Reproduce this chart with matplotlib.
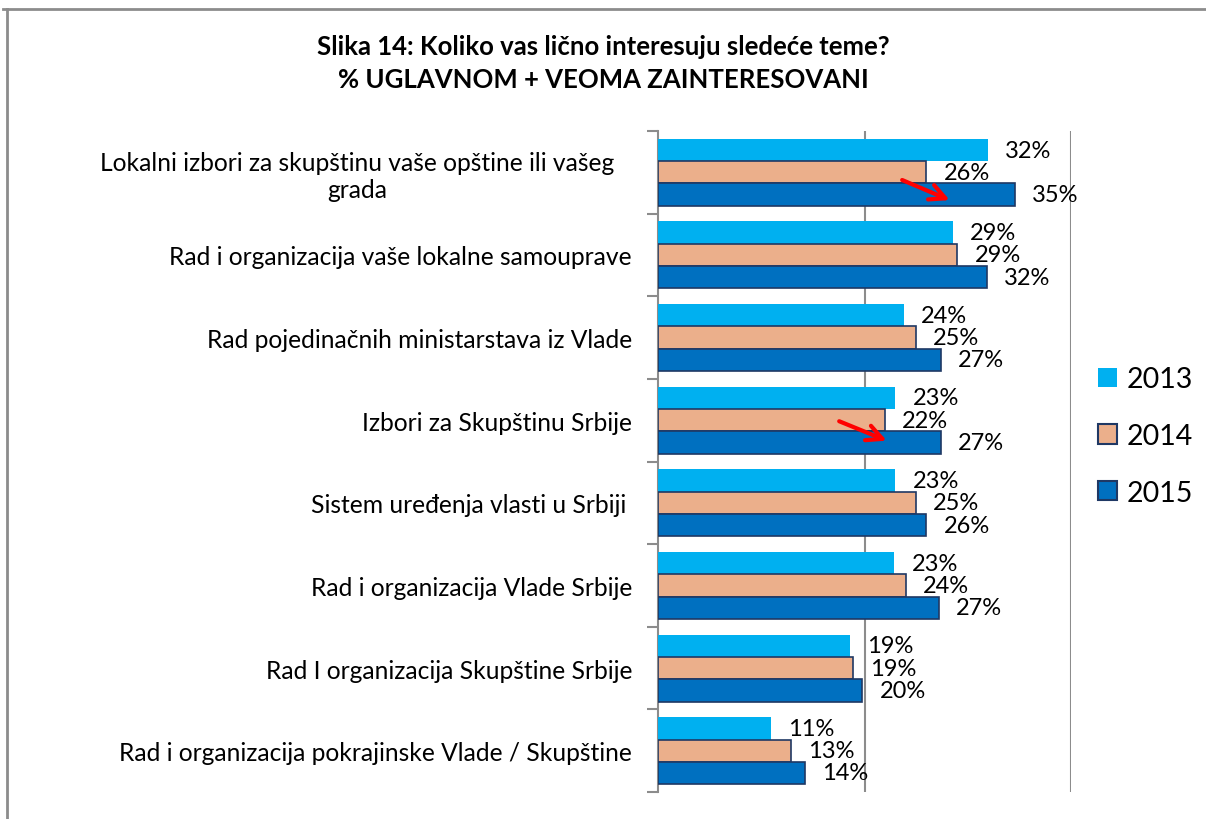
import numpy as np
import matplotlib
matplotlib.use('Agg')
import matplotlib.pyplot as plt
from matplotlib.lines import Line2D
from matplotlib.patches import Rectangle

plt.rcParams['font.family'] = ['Lato', 'DejaVu Sans']

# ---- Data ---- #
categories = [
    'Lokalni izbori za skupštinu vaše opštine ili vašeg\ngrada',
    'Rad i organizacija vaše lokalne samouprave',
    'Rad pojedinačnih ministarstava iz Vlade',
    'Izbori za Skupštinu Srbije',
    'Sistem uređenja vlasti u Srbiji ',
    'Rad i organizacija Vlade Srbije',
    'Rad I organizacija Skupštine Srbije',
    'Rad i organizacija pokrajinske Vlade / Skupštine',
]
years = ['2013', '2014', '2015']
v2013 = [32.0, 28.6, 23.8, 23.0, 23.0, 22.9, 18.6, 10.9]
v2014 = [26.0, 29.0, 25.0, 22.0, 25.0, 24.0, 18.9, 12.9]
v2015 = [34.6, 31.9, 27.4, 27.4, 26.0, 27.2, 19.8, 14.2]

colors = ['#00B0F0', '#EBAF8B', '#0070C0']
edges = ['none', '#1F3864', '#1F3864']

fig = plt.figure(figsize=(12.06, 8.2), dpi=100)
ax = fig.add_axes([658/1206, 1-793/820, (1071-658)/1206, (793-132)/820])

n = len(categories)
y = np.arange(n)
h = 0.27
for k, (vals, col, ec) in enumerate(zip([v2013, v2014, v2015], colors, edges)):
    pos = y + (k - 1) * h
    ax.barh(pos, vals, height=h, color=col, edgecolor=ec,
            linewidth=1.2 if ec != 'none' else 0, label=years[k], zorder=3)
    for p, v in zip(pos, vals):
        ax.annotate(f'{round(v):d}%', (v, p), xytext=(17, 0),
                    textcoords='offset pixels',
                    va='center', ha='left', fontsize=17, zorder=4)

ax.set_xlim(0, 40)
ax.set_ylim(n - 0.5, -0.5)
ax.set_xticks([20, 40])
ax.xaxis.grid(True, color='#8C8C8C', linewidth=1.5, zorder=0)
ax.tick_params(axis='x', length=0, labelbottom=False)

# category boundary ticks
ax.set_yticks(np.arange(n + 1) - 0.5, minor=True)
ax.set_yticks(y)
ax.set_yticklabels(categories, fontsize=17.7, multialignment='center')
ax.tick_params(axis='y', which='major', length=0, pad=18.7)
ax.tick_params(axis='y', which='minor', length=8, color='#8C8C8C', width=1.5)
first = ax.get_yticklabels()[0]
first.set_ha('center')
first.set_x(-0.666)
for s in ['top', 'right', 'bottom']:
    ax.spines[s].set_visible(False)
ax.spines['left'].set_color('#8C8C8C')
ax.spines['left'].set_linewidth(1.5)

# red arrows
ax.annotate('', xy=(28.5, 0.35), xytext=(23.4, 0.08),
            arrowprops=dict(arrowstyle='->', color='red', lw=3, mutation_scale=28), zorder=5)
ax.annotate('', xy=(22.4, 3.26), xytext=(17.3, 3.0),
            arrowprops=dict(arrowstyle='->', color='red', lw=3, mutation_scale=28), zorder=5)

# legend
handles = [Rectangle((0, 0), 1, 1, facecolor=c, edgecolor=e, linewidth=1.5) for c, e in zip(colors, edges)]
fig.legend(handles, years, loc='center left', bbox_to_anchor=(1098/1206, 1-437/820),
           frameon=False, fontsize=20.5, handlelength=0.65, handleheight=0.65,
           handletextpad=0.35, labelspacing=1.08, borderaxespad=0, borderpad=0)

# title
fig.text(603/1206, 1-47/820, 'Slika 14: Koliko vas lično interesuju sledeće teme?',
         ha='center', va='center', fontsize=18.5, fontweight='bold')
fig.text(603/1206, 1-80/820, '% UGLAVNOM + VEOMA ZAINTERESOVANI',
         ha='center', va='center', fontsize=18.5, fontweight='bold')

# outer frame
fig.add_artist(Line2D([3/1206, 1], [1-10/820, 1-10/820], color='#8C8C8C', lw=2))
fig.add_artist(Line2D([7/1206, 7/1206], [0, 1-10/820], color='#8C8C8C', lw=2))

fig.savefig('out.png', dpi=100)
